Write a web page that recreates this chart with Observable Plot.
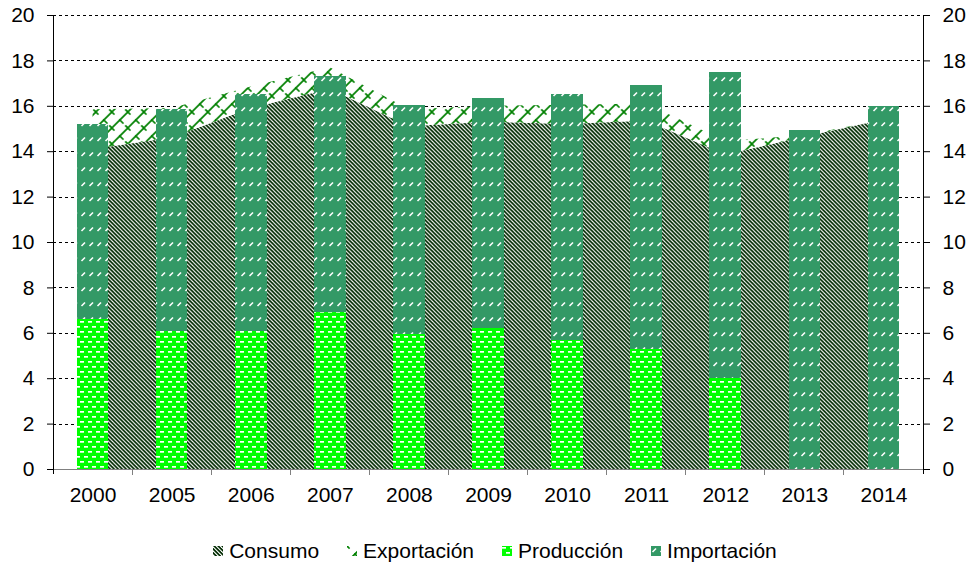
<!DOCTYPE html>
<html>
<head>
<meta charset="utf-8">
<script src="https://cdn.jsdelivr.net/npm/d3@7"></script>
<script src="https://cdn.jsdelivr.net/npm/@observablehq/plot@0.6"></script>
<style>
  body { margin: 0; background: #fff; font-family: "Liberation Sans", Arial, sans-serif; }
  #legend { display: flex; justify-content: center; align-items: center; padding-left: 19px; padding-top: 7px;
            height: 48px; font-size: 21px; color: #000; gap: 28px; }
  #legend .item { display: flex; align-items: center; }
  #legend svg { margin-right: 6px; }
</style>
</head>
<body>
<div id="chart"></div>
<div id="legend"></div>
<script>
// ---- data ----
const years = ["2000", "2005", "2006", "2007", "2008", "2009", "2010", "2011", "2012", "2013", "2014"];
const consumo = [14.1, 14.6, 15.9, 16.75, 15.1, 15.3, 15.2, 15.35, 13.85, 14.65, 15.4];
const exportacion = [1.75, 1.3, 0.95, 0.95, 0.75, 0.7, 0.85, 0.75, 0.6, 0.05, 0];
const produccion = [6.6, 6.1, 6.1, 6.9, 5.95, 6.2, 5.7, 5.3, 4.0, 0, 0];
const importacion = [8.6, 9.75, 10.4, 10.4, 10.1, 10.15, 10.8, 11.6, 13.5, 14.95, 16.0];
const yTicks = [0, 2, 4, 6, 8, 10, 12, 14, 16, 18, 20];
const seriesNames = ["Consumo", "Exportación", "Producción", "Importación"];

const rows = years.map((year, i) => ({
  year, consumo: consumo[i], exportacion: exportacion[i],
  produccion: produccion[i], importacion: importacion[i]
}));

const NS = "http://www.w3.org/2000/svg";
function el(name, attrs, parent) {
  const e = document.createElementNS(NS, name);
  for (const k in attrs) e.setAttribute(k, attrs[k]);
  if (parent) parent.appendChild(e);
  return e;
}

function pattern(defs, id, w, h, bg) {
  const p = el("pattern", {id, patternUnits: "userSpaceOnUse", x: 0, y: 0, width: w, height: h}, defs);
  el("rect", {x: 0, y: 0, width: w, height: h, fill: bg}, p);
  return p;
}

function makeDefs() {
  const defs = el("defs", {});
  // Consumo: dark downward diagonal stripes (period 4px)
  const pc = pattern(defs, "pConsumo", 8, 8, "#ffffff");
  for (let k = -3; k <= 2; k++) {
    const a = k * 4;
    el("polygon", {points: `${a},0 ${a + 2.4},0 ${a + 10.4},8 ${a + 8},8`, fill: "#002a00"}, pc);
  }
  // Exportación: green shingle-like lattice on white
  const pe = pattern(defs, "pExport", 16, 16, "#ffffff");
  const ge = el("g", {stroke: "#008000", "stroke-width": 1.7, fill: "none", "stroke-linecap": "square"}, pe);
  el("path", {d: "M-2,18L18,-2 M-2,2L2,-2 M14,18L18,14"}, ge);
  el("path", {d: "M8,8L11,11 M0,0L2,2 M16,16L14,14"}, ge);
  // Producción: bright green with white horizontal dashes
  const pp = pattern(defs, "pProd", 8, 10, "#00ff00");
  el("rect", {x: 0, y: 1, width: 4, height: 1.7, fill: "#ffffff"}, pp);
  el("rect", {x: 4, y: 6, width: 4, height: 1.7, fill: "#ffffff"}, pp);
  // Importación: sea green with white short upward diagonal dashes
  const pi = pattern(defs, "pImp", 8, 15, "#339966");
  el("path", {d: "M1.5,6L5,2.5", stroke: "#ffffff", "stroke-width": 1.6, fill: "none"}, pi);
  return defs;
}

const defsMark = () => makeDefs();

// axis frame lines and category boundary ticks, via the band scale
function frameMark(index, scales) {
  const {x, y} = scales;
  const g = el("g", {stroke: "#000", "stroke-width": 1, "shape-rendering": "crispEdges"});
  const bw = x.bandwidth();
  const step = x.step ? x.step() : bw / 0.4;
  const y0 = y(0), yTop = y(20);
  years.forEach((yr, i) => {
    if (i === 0) return;
    const bx = x(yr) + bw / 2 - step / 2;
    el("line", {x1: bx, x2: bx, y1: y0, y2: y0 + 6, stroke: "#808080"}, g);
  });
  const first = x(years[0]) + bw / 2 - step / 2;
  const last = x(years[years.length - 1]) + bw / 2 + step / 2;
  el("line", {x1: first, x2: first, y1: yTop, y2: y0 + 5}, g);
  el("line", {x1: last, x2: last, y1: yTop, y2: y0 + 5}, g);
  return g;
}

const chart = Plot.plot({
  width: 971,
  height: 520,
  marginLeft: 53,
  marginRight: 48,
  marginTop: 15,
  marginBottom: 51,
  style: {fontFamily: '"Liberation Sans", Arial, sans-serif', fontSize: "21px", color: "#000", background: "#fff"},
  x: {type: "band", domain: years, paddingInner: 0.6, paddingOuter: 0.3, round: false, label: null},
  y: {domain: [0, 20], label: null},
  marks: [
    defsMark,
    Plot.ruleY(yTicks.filter(d => d > 0), {stroke: "#000", strokeDasharray: "3,3", strokeWidth: 1, shapeRendering: "crispEdges"}),
    Plot.areaY(rows, {x: "year", y1: 0, y2: "consumo", fill: "url(#pConsumo)"}),
    Plot.areaY(rows, {x: "year", y1: "consumo", y2: d => d.consumo + d.exportacion, fill: "url(#pExport)"}),
    Plot.barY(rows, {x: "year", y1: 0, y2: "produccion", fill: "url(#pProd)", shapeRendering: "crispEdges"}),
    Plot.barY(rows, {x: "year", y1: "produccion", y2: d => d.produccion + d.importacion, fill: "url(#pImp)", shapeRendering: "crispEdges"}),
    Plot.ruleY([0], {stroke: "#808080", shapeRendering: "crispEdges"}),
    frameMark,
    Plot.axisY(yTicks, {anchor: "left", tickSize: 6, tickPadding: 13, label: null}),
    Plot.axisY(yTicks, {anchor: "right", tickSize: 6, tickPadding: 13, label: null}),
    Plot.axisX({tickSize: 0, tickPadding: 18, label: null})
  ]
});
document.getElementById("chart").appendChild(chart);

// legend
const legendFills = ["url(#pConsumo)", "url(#pExport)", "url(#pProd)", "url(#pImp)"];
const legend = document.getElementById("legend");
seriesNames.forEach((name, i) => {
  const item = document.createElement("div");
  item.className = "item";
  const sw = el("svg", {width: 10, height: 10});
  el("rect", {x: 0, y: 0, width: 10, height: 10, fill: legendFills[i]}, sw);
  item.appendChild(sw);
  const t = document.createElement("span");
  t.textContent = name;
  item.appendChild(t);
  legend.appendChild(item);
});
</script>
</body>
</html>
